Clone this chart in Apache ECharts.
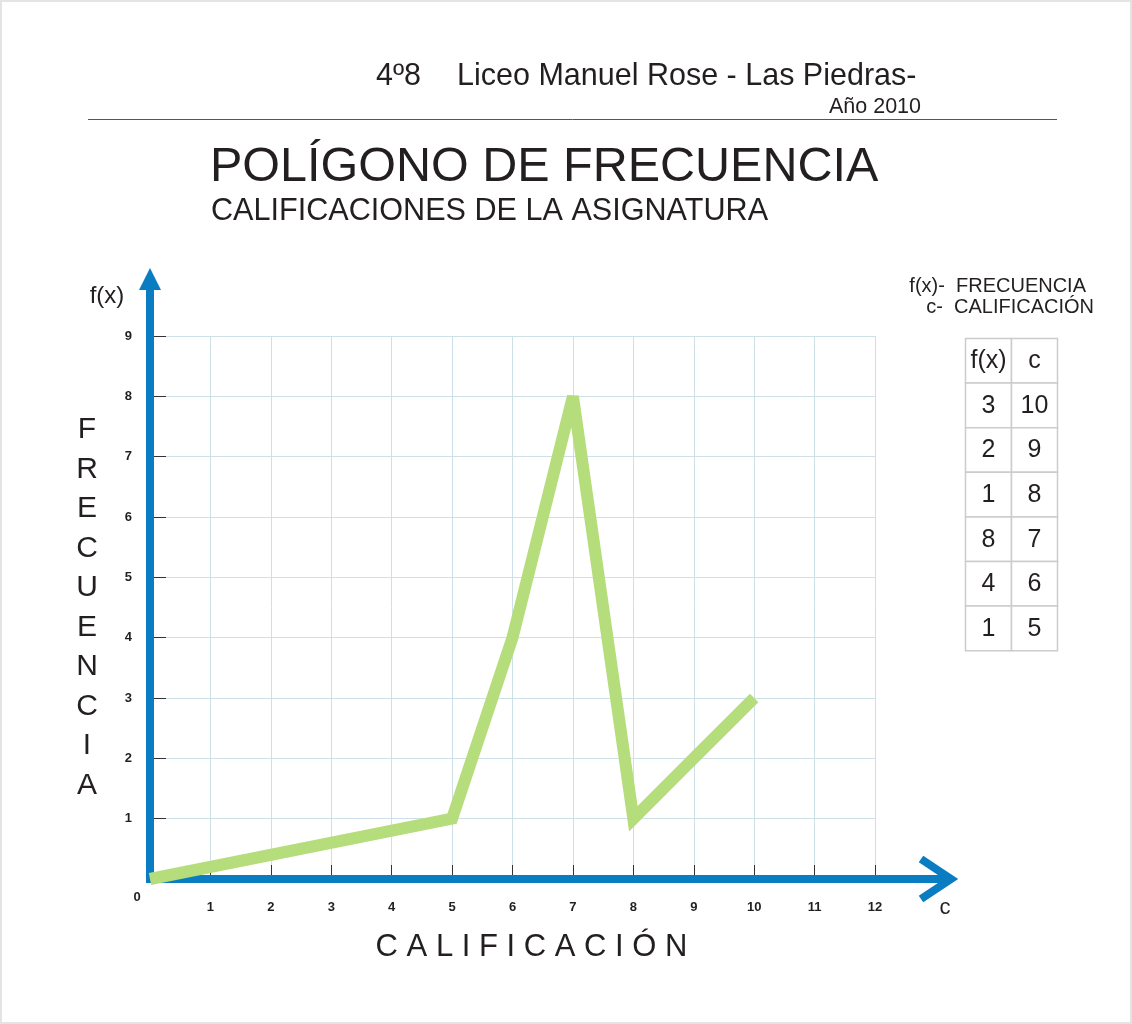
<!DOCTYPE html>
<html><head><meta charset="utf-8">
<script src="https://cdn.jsdelivr.net/npm/echarts@6/dist/echarts.min.js"></script>
<style>html,body{margin:0;padding:0;background:#fff}#c{width:1132px;height:1024px}</style>
</head><body><div id="c"></div>
<script>
// ---- data ----
const califs = [0, 5, 6, 7, 8, 9, 10];
const freqs  = [0, 1, 4, 8, 1, 2, 3];
const tableFx = [3, 2, 1, 8, 4, 1];
const tableC  = [10, 9, 8, 7, 6, 5];
const tableHeader = ['f(x)', 'c'];
const xMax = 12, yMax = 9;
const headerCourse = '4º8';
const headerText = 'Liceo Manuel Rose - Las Piedras-';
const yearText = 'Año 2010';
const titleText = 'POLÍGONO DE FRECUENCIA';
const subtitleText = 'CALIFICACIONES DE LA ASIGNATURA';
const yAxisTitle = 'FRECUENCIA';
const xAxisTitle = 'CALIFICACIÓN';
const legendLines = ['f(x)-  FRECUENCIA', 'c-  CALIFICACIÓN'];

const FONT = '"Liberation Sans", Arial, sans-serif';
const INK = '#231f20';
const BLUE = '#0a7cc2';
const GREEN = '#b5dd7b';
const GRID = '#cde0e7';

const chart = echarts.init(document.getElementById('c'), null, {renderer: 'canvas'});

const baseOption = {
  backgroundColor: '#fff',
  animation: false,
  grid: {left: 150, right: 257, top: 336, bottom: 145, containLabel: false},
  xAxis: {
    type: 'value', min: 0, max: xMax, interval: 1,
    name: xAxisTitle.split('').join(' '),
    nameLocation: 'middle', nameGap: 53,
    nameTextStyle: {fontFamily: FONT, fontSize: 31, color: INK, padding: [0, 0, 0, 38]},
    axisLine: {show: false},
    axisTick: {show: true, inside: true, length: 14, lineStyle: {color: '#333', width: 1}},
    axisLabel: {
      margin: 22, fontFamily: FONT, fontSize: 13, fontWeight: 'bold', color: INK,
      formatter: v => (v === 0 ? '' : String(v))
    },
    splitLine: {show: true, lineStyle: {color: GRID, width: 1}}
  },
  yAxis: {
    type: 'value', min: 0, max: yMax, interval: 1,
    name: yAxisTitle.split('').join('\n'),
    nameLocation: 'middle', nameGap: 63, nameRotate: 0,
    nameTextStyle: {fontFamily: FONT, fontSize: 30, color: INK, lineHeight: 39.5, align: 'center', verticalAlign: 'middle'},
    axisLine: {show: false},
    axisTick: {show: true, inside: true, length: 16, lineStyle: {color: '#333', width: 1}},
    axisLabel: {
      margin: 18, fontFamily: FONT, fontSize: 13, fontWeight: 'bold', color: INK,
      formatter: v => (v === 0 ? '' : String(v))
    },
    splitLine: {show: true, lineStyle: {color: GRID, width: 1}}
  },
  series: [{
    type: 'line', z: 10,
    data: califs.map((c, i) => [c, freqs[i]]),
    showSymbol: false, symbol: 'none',
    lineStyle: {color: GREEN, width: 12, cap: 'butt', join: 'miter', miterLimit: 3}
  }]
};
chart.setOption(baseOption);

const o = chart.convertToPixel({gridIndex: 0}, [0, 0]);
const xEnd = chart.convertToPixel({gridIndex: 0}, [xMax, 0]);
const yTop = chart.convertToPixel({gridIndex: 0}, [0, yMax]);
const ox = o[0], oy = o[1];

const g = [];
// page border
g.push({type: 'rect', z: 0, shape: {x: 1, y: 1, width: 1130, height: 1022}, style: {fill: 'none', stroke: '#e4e4e4', lineWidth: 2}});
// header
g.push({type: 'text', z: 20, style: {text: headerCourse, x: 376, y: 77, fontFamily: FONT, fontSize: 30.5, fill: INK, verticalAlign: 'middle'}});
g.push({type: 'text', z: 20, style: {text: headerText, x: 457, y: 77, fontFamily: FONT, fontSize: 30.5, fill: INK, verticalAlign: 'middle'}});
g.push({type: 'text', z: 20, style: {text: yearText, x: 921, y: 107, fontFamily: FONT, fontSize: 21.5, fill: INK, align: 'right', verticalAlign: 'middle'}});
g.push({type: 'line', z: 20, shape: {x1: 88, y1: 119.5, x2: 1057, y2: 119.5}, style: {stroke: '#555', lineWidth: 1}});
g.push({type: 'text', z: 20, style: {text: titleText, x: 210, y: 168, fontFamily: FONT, fontSize: 48.5, fill: INK, verticalAlign: 'middle'}});
g.push({type: 'text', z: 20, style: {text: subtitleText, x: 211, y: 212, fontFamily: FONT, fontSize: 30.6, fill: INK, verticalAlign: 'middle'}});
// axes (blue, with arrows)
g.push({type: 'line', z: 5, shape: {x1: ox, y1: oy + 4, x2: ox, y2: yTop[1] - 48}, style: {stroke: BLUE, lineWidth: 8}});
g.push({type: 'polygon', z: 5, shape: {points: [[ox, yTop[1] - 68], [ox - 11, yTop[1] - 46], [ox + 11, yTop[1] - 46]]}, style: {fill: BLUE}});
g.push({type: 'line', z: 5, shape: {x1: ox - 4, y1: oy, x2: xEnd[0] + 76, y2: oy}, style: {stroke: BLUE, lineWidth: 8}});
g.push({type: 'polyline', z: 5, shape: {points: [[xEnd[0] + 46, oy - 20], [xEnd[0] + 76, oy], [xEnd[0] + 46, oy + 20]]}, style: {stroke: BLUE, lineWidth: 8, fill: 'none', lineJoin: 'miter'}});
// axis end labels
g.push({type: 'text', z: 20, style: {text: '0', x: ox - 13, y: oy + 18, fontFamily: FONT, fontSize: 13, fontWeight: 'bold', fill: INK, align: 'center', verticalAlign: 'middle'}});
g.push({type: 'text', z: 20, style: {text: 'f(x)', x: 107, y: 296, fontFamily: FONT, fontSize: 24, fill: INK, align: 'center', verticalAlign: 'middle'}});
g.push({type: 'text', z: 20, style: {text: 'c', x: 945, y: 908, fontFamily: FONT, fontSize: 22, fill: INK, align: 'center', verticalAlign: 'middle'}});
// legend lines
g.push({type: 'text', z: 20, style: {text: legendLines[0], x: 1086, y: 286, fontFamily: FONT, fontSize: 20, fill: INK, align: 'right', verticalAlign: 'middle'}});
g.push({type: 'text', z: 20, style: {text: legendLines[1], x: 1094, y: 307, fontFamily: FONT, fontSize: 20, fill: INK, align: 'right', verticalAlign: 'middle'}});
// table
const tx = [965, 1011, 1057];
const ty0 = 338, rh = 44.6;
const rows = [tableHeader].concat(tableFx.map((f, i) => [String(f), String(tableC[i])]));
rows.forEach((r, ri) => {
  r.forEach((cell, ci) => {
    const x = tx[ci], y = ty0 + ri * rh, w = tx[ci + 1] - tx[ci];
    g.push({type: 'rect', z: 15, shape: {x: x + 0.5, y: y + 0.5, width: w, height: rh}, style: {fill: '#fff', stroke: '#cccccc', lineWidth: 1.5}});
    g.push({type: 'text', z: 16, style: {text: cell, x: x + w / 2 + 0.5, y: y + rh / 2 + 1, fontFamily: FONT, fontSize: 25, fill: INK, align: 'center', verticalAlign: 'middle'}});
  });
});
chart.setOption({graphic: {elements: g}});
</script>
</body></html>
